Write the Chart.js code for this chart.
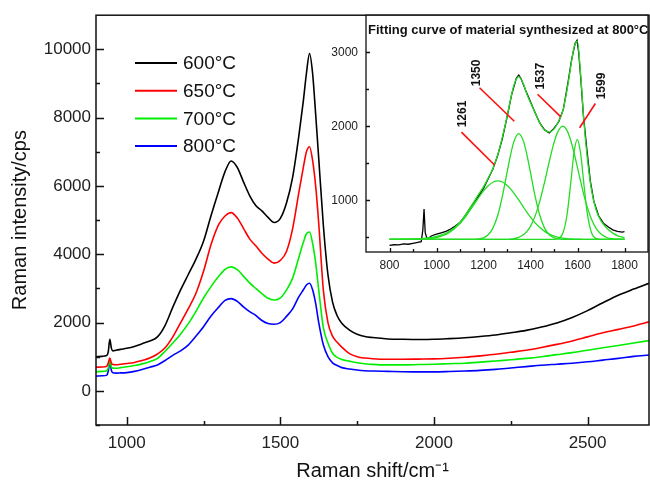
<!DOCTYPE html>
<html><head><meta charset="utf-8">
<script src="https://cdn.jsdelivr.net/npm/chart.js@4/dist/chart.umd.min.js"></script>
<style>
html,body{margin:0;padding:0;background:#fff;}
#wrap{position:relative;width:650px;height:483px;overflow:hidden;}
#main{position:absolute;left:0;top:0;}
#inset{position:absolute;left:320px;top:0;}
</style></head><body>
<div id="wrap"><canvas id="main" width="650" height="483"></canvas><canvas id="inset" width="330" height="280"></canvas></div>
<script>
// ---------- main spectra ----------
const ramanShift = [900,920,935,940,945,950,955,965,980,1000,1025,1050,1075,1100,1125,1150,1175,1200,1225,1250,1275,1300,1320,1340,1360,1380,1400,1420,1440,1460,1480,1500,1520,1540,1560,1575,1585,1595,1605,1615,1625,1640,1655,1670,1685,1700,1725,1750,1775,1800,1850,1900,1950,2000,2050,2100,2150,2200,2250,2300,2350,2400,2450,2500,2550,2600,2650,2700];
const intensity600 = [1000,1010,1040,1150,1510,1250,1170,1190,1215,1245,1300,1380,1460,1580,1920,2450,2950,3400,3850,4380,5150,5870,6420,6730,6540,6120,5720,5430,5270,5080,4930,5050,5500,6250,7450,8500,9300,9880,9300,8100,6800,4850,3400,2600,2200,1980,1780,1660,1590,1560,1520,1510,1505,1510,1530,1555,1590,1635,1700,1770,1870,1990,2150,2350,2580,2800,2980,3150];
const intensity650 = [690,700,720,820,960,820,770,765,780,800,830,890,960,1080,1260,1580,1990,2400,2850,3500,4300,4880,5120,5220,5060,4760,4450,4250,4030,3860,3740,3820,4080,4750,5800,6550,7000,7150,6750,6000,4900,2950,2000,1600,1420,1280,1090,1000,960,940,925,925,930,935,955,985,1025,1070,1130,1190,1270,1360,1460,1580,1700,1800,1900,2020];
const intensity700 = [560,570,590,680,900,700,665,660,680,705,740,790,855,950,1160,1400,1660,1960,2320,2720,3060,3360,3560,3630,3550,3360,3160,3000,2850,2710,2660,2720,2950,3300,3900,4350,4600,4650,4320,3750,2950,1850,1400,1100,980,920,870,825,795,775,760,760,770,780,795,810,840,875,910,950,1000,1060,1120,1190,1260,1330,1400,1470];
const intensity800 = [430,440,460,580,860,600,530,520,525,535,570,625,690,760,890,1040,1170,1340,1600,1880,2200,2460,2650,2700,2620,2460,2320,2210,2060,1970,1950,2000,2180,2400,2750,2960,3100,3150,2960,2560,2000,1350,1000,820,740,680,640,610,590,580,570,560,555,555,565,580,600,630,670,710,750,780,810,850,900,950,1010,1050];
const seriesLabels = ['600°C','650°C','700°C','800°C'];
const seriesColors = ['#000000','#ff0000','#00ee00','#0000ff'];
const xMajorTicks = [1000,1500,2000,2500];
const xMinorTicks = [1250,1750,2250];
const yMajorTicks = [0,2000,4000,6000,8000,10000];
const yMinorTicks = [-1000,1000,3000,5000,7000,9000];

// ---------- inset: fit of 800 °C spectrum ----------
const spec800Shift = [800,820,840,860,880,900,920,935,942,947,952,960,980,1000,1020,1040,1060,1080,1100,1120,1140,1160,1180,1200,1220,1240,1260,1280,1300,1320,1340,1350,1360,1380,1400,1420,1440,1460,1480,1500,1520,1540,1560,1575,1590,1598,1605,1615,1625,1640,1655,1670,1690,1710,1730,1750,1770,1790,1800];
const spec800Intensity = [390,398,395,410,405,418,430,440,600,880,560,475,520,540,560,580,610,650,700,780,880,975,1060,1160,1290,1420,1600,1830,2120,2430,2650,2690,2640,2480,2330,2180,2040,1950,1910,1970,2060,2230,2600,2900,3120,3160,3000,2600,2150,1680,1250,980,790,690,640,600,580,570,575];
const fitShift = [800,850,900,950,1000,1050,1100,1125,1150,1175,1200,1220,1240,1261,1280,1300,1315,1330,1350,1370,1385,1400,1420,1440,1460,1480,1500,1515,1537,1555,1570,1585,1599,1613,1627,1640,1660,1680,1700,1725,1750,1775,1800];
const fitEnvelope = [470,472,476,485,510,570,700,810,930,1060,1180,1300,1430,1620,1850,2130,2360,2560,2670,2570,2430,2320,2180,2040,1950,1920,1960,2040,2200,2480,2780,3060,3150,2720,2070,1620,1130,860,720,620,555,515,495];
const band1261 = [470,470,471,476,496,555,686,783,897,1016,1126,1196,1243,1260,1246,1202,1153,1093,1002,906,836,771,693,630,579,542,515,501,487,480,477,474,473,472,471,471,470,470,470,470,470,470,470];
const band1350 = [470,470,470,470,470,470,470,470,470,475,492,533,623,800,1048,1371,1610,1798,1900,1798,1610,1371,1048,790,623,533,492,479,472,470,470,470,470,470,470,470,470,470,470,470,470,470,470];
const band1537 = [470,470,470,470,470,470,470,470,470,470,470,470,470,470,470,471,475,481,498,532,578,647,788,990,1245,1524,1778,1917,2000,1944,1820,1645,1454,1258,1074,923,739,616,542,496,478,472,470];
const band1599 = [470,470,470,470,470,470,470,470,470,470,470,470,470,470,470,470,470,470,470,470,470,470,470,470,470,470,471,477,549,793,1195,1638,1820,1638,1226,860,556,481,470,470,470,470,470];
const peakLabels = ['1261','1350','1537','1599'];
const leaderFromX = [1106,1183,1430,1676];
const leaderFromY = [1920,2520,2432,2307];
const leaderToX = [1247,1331,1528,1609];
const leaderToY = [1476,2067,2129,1979];
const peakLabelX = [1112,1169,1444,1704];
const peakLabelY = [2165,2720,2676,2543];
const insetXMajor = [800,1000,1200,1400,1600,1800];
const insetXMinor = [900,1100,1300,1500,1700];
const insetYMajor = [1000,2000,3000];
const insetYMinor = [500,1500,2500];
const insetTitle = 'Fitting curve of material synthesized at 800°C';

const FONT = "'Liberation Sans', Arial, Helvetica, sans-serif";
const pts = (xs, ys) => xs.map((x, i) => ({x, y: ys[i]}));
const plainNum = v => String(v);

function framePlugin(id, cfg) {
  return {
    id,
    beforeDraw(chart) {
      if (!cfg.fill) return;
      const a = chart.chartArea, ctx = chart.ctx;
      ctx.save(); ctx.fillStyle = '#fff';
      ctx.fillRect(a.left, a.top, a.right - a.left, a.bottom - a.top);
      ctx.restore();
    },
    afterDraw(chart) {
      const {ctx, chartArea: a, scales: {x, y}} = chart;
      ctx.save();
      ctx.strokeStyle = '#111'; ctx.lineWidth = cfg.lw;
      ctx.strokeRect(a.left, a.top, a.right - a.left, a.bottom - a.top);
      ctx.beginPath();
      const tx = (vals, len) => vals.forEach(v => { const p = Math.round(x.getPixelForValue(v)) + 0.5; ctx.moveTo(p, a.bottom); ctx.lineTo(p, a.bottom - len); });
      const ty = (vals, len) => vals.forEach(v => { const p = Math.round(y.getPixelForValue(v)) + 0.5; ctx.moveTo(a.left, p); ctx.lineTo(a.left + len, p); });
      tx(cfg.xMajor, cfg.major); tx(cfg.xMinor, cfg.minor);
      ty(cfg.yMajor, cfg.major); ty(cfg.yMinor, cfg.minor);
      ctx.stroke();
      ctx.restore();
    }
  };
}

const mainLegend = {
  id: 'mainLegend',
  afterDraw(chart) {
    const ctx = chart.ctx;
    ctx.save();
    ctx.font = '19px ' + FONT;
    ctx.textBaseline = 'middle';
    chart.data.datasets.forEach((ds, i) => {
      const yy = 63 + i * 27.7;
      ctx.strokeStyle = ds.borderColor; ctx.lineWidth = 2;
      ctx.beginPath(); ctx.moveTo(135, yy); ctx.lineTo(177, yy); ctx.stroke();
      ctx.fillStyle = '#111';
      ctx.fillText(ds.label, 183, yy + 1);
    });
    ctx.restore();
  }
};

const axisTicks = (vals) => (s) => { s.ticks = vals.map(v => ({value: v})); };

new Chart(document.getElementById('main'), {
  type: 'line',
  data: {
    datasets: [intensity600, intensity650, intensity700, intensity800].map((ys, i) => ({
      label: seriesLabels[i], data: pts(ramanShift, ys), borderColor: seriesColors[i],
      borderWidth: 1.6, pointRadius: 0, cubicInterpolationMode: 'monotone', fill: false
    }))
  },
  options: {
    responsive: false, animation: false, devicePixelRatio: 1,
    layout: {padding: {top: 14, right: 1, left: 0, bottom: 0}},
    plugins: {legend: {display: false}, tooltip: {enabled: false}},
    scales: {
      x: {
        type: 'linear', min: 900, max: 2700,
        afterBuildTicks: axisTicks(xMajorTicks),
        afterFit: s => { s.height = 58; },
        grid: {display: false, drawTicks: false}, border: {display: false},
        ticks: {font: {family: FONT, size: 17}, color: '#222', padding: 8, maxRotation: 0, autoSkip: false, callback: plainNum},
        title: {display: true, text: 'Raman shift/cm⁻¹', font: {family: FONT, size: 20}, color: '#111', padding: {top: 0, bottom: 0}}
      },
      y: {
        type: 'linear', min: -1000, max: 11000,
        afterBuildTicks: axisTicks(yMajorTicks),
        afterFit: s => { s.width = 96; },
        grid: {display: false, drawTicks: false}, border: {display: false},
        ticks: {font: {family: FONT, size: 17}, color: '#222', padding: 5, autoSkip: false, callback: plainNum},
        title: {display: true, text: 'Raman intensity/cps', font: {family: FONT, size: 20}, color: '#111', padding: {top: 8, bottom: 0}}
      }
    }
  },
  plugins: [framePlugin('mainFrame', {lw: 1.5, major: 8, minor: 4, xMajor: xMajorTicks, xMinor: xMinorTicks, yMajor: yMajorTicks, yMinor: yMinorTicks}), mainLegend]
});

const insetText = {
  id: 'insetText',
  afterDraw(chart) {
    const {ctx, chartArea: a, scales: {x, y}} = chart;
    ctx.save();
    ctx.fillStyle = '#111';
    ctx.font = 'bold 13px ' + FONT;
    ctx.textBaseline = 'middle';
    ctx.fillText(insetTitle, a.left + 2, 30);
    ctx.font = 'bold 12px ' + FONT;
    ctx.textAlign = 'center';
    peakLabels.forEach((t, i) => {
      ctx.save();
      ctx.translate(x.getPixelForValue(peakLabelX[i]), y.getPixelForValue(peakLabelY[i]));
      ctx.rotate(-Math.PI / 2);
      ctx.fillText(t, 0, 0);
      ctx.restore();
    });
    ctx.restore();
  }
};

const green = '#22dd22';
const insetDatasets = [];
peakLabels.forEach((t, i) => insetDatasets.push({
  label: 'leader ' + t, data: [{x: leaderFromX[i], y: leaderFromY[i]}, {x: leaderToX[i], y: leaderToY[i]}],
  borderColor: '#ff1010', borderWidth: 1.6, pointRadius: 0
}));
insetDatasets.push({label: 'fit', data: pts(fitShift, fitEnvelope), borderColor: green, borderWidth: 1.3, pointRadius: 0, cubicInterpolationMode: 'monotone'});
[band1261, band1350, band1537, band1599].forEach((b, i) => insetDatasets.push({
  label: 'band ' + peakLabels[i], data: pts(fitShift, b), borderColor: green, borderWidth: 1.3, pointRadius: 0, cubicInterpolationMode: 'monotone'
}));
insetDatasets.push({label: '800°C data', data: pts(spec800Shift, spec800Intensity), borderColor: '#000', borderWidth: 1.3, pointRadius: 0, tension: 0});

new Chart(document.getElementById('inset'), {
  type: 'line',
  data: {datasets: insetDatasets},
  options: {
    responsive: false, animation: false, devicePixelRatio: 1,
    layout: {padding: {top: 14, right: 2, left: 0, bottom: 0}},
    plugins: {legend: {display: false}, tooltip: {enabled: false}},
    scales: {
      x: {
        type: 'linear', min: 700, max: 1900,
        afterBuildTicks: axisTicks(insetXMajor),
        afterFit: s => { s.height = 28; },
        grid: {display: false, drawTicks: false}, border: {display: false},
        ticks: {font: {family: FONT, size: 12}, color: '#222', padding: 6, maxRotation: 0, autoSkip: false, callback: plainNum}
      },
      y: {
        type: 'linear', min: 300, max: 3500,
        afterBuildTicks: axisTicks(insetYMajor),
        afterFit: s => { s.width = 46; },
        grid: {display: false, drawTicks: false}, border: {display: false},
        ticks: {font: {family: FONT, size: 12}, color: '#222', padding: 8, autoSkip: false, callback: plainNum}
      }
    }
  },
  plugins: [framePlugin('insetFrame', {fill: true, lw: 1.3, major: 4, minor: 3, xMajor: insetXMajor, xMinor: insetXMinor, yMajor: insetYMajor, yMinor: insetYMinor}), insetText]
});
</script>
</body></html>
